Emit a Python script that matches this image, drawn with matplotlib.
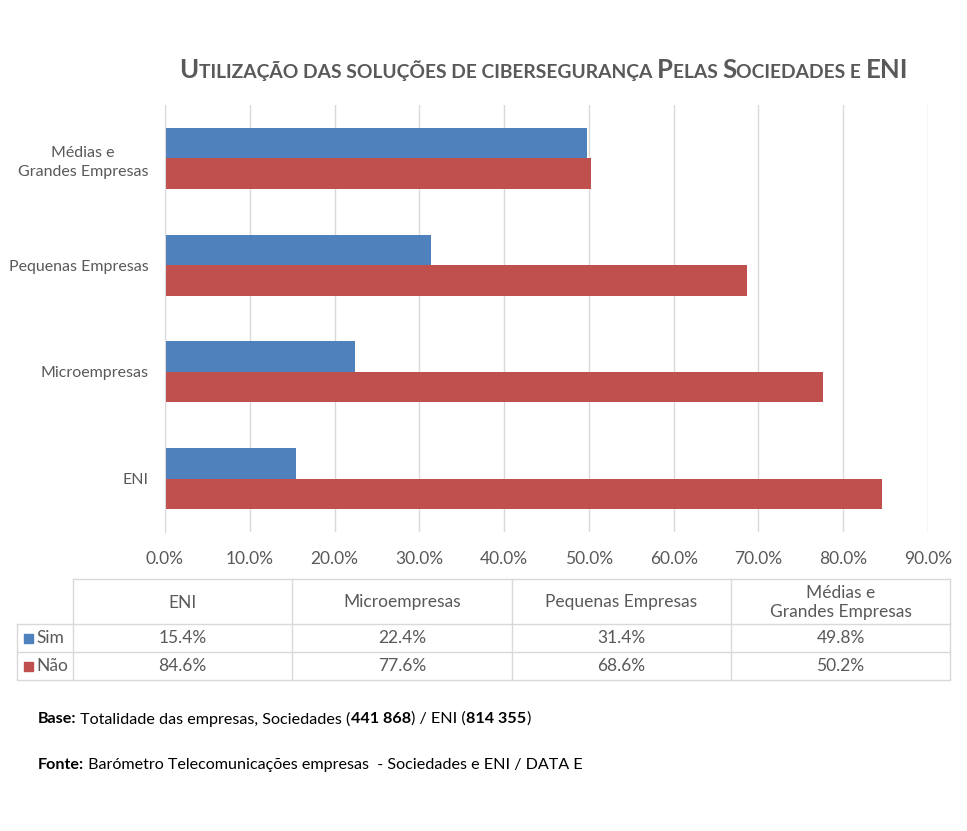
import matplotlib
matplotlib.use("Agg")
import matplotlib.pyplot as plt
from matplotlib.offsetbox import TextArea, HPacker, AnchoredOffsetbox
from matplotlib.patches import Rectangle

plt.rcParams['font.family'] = ['Lato', 'DejaVu Sans']

# data
categories = ['ENI', 'Microempresas', 'Pequenas Empresas', 'Médias e\nGrandes Empresas']
sim = [15.4, 22.4, 31.4, 49.8]
nao = [84.6, 77.6, 68.6, 50.2]
series_names = ['Sim', 'Não']
xticks = [0, 10, 20, 30, 40, 50, 60, 70, 80, 90]

blue = '#4F81BD'
red = '#C0504D'
txt = '#595959'
grid = '#D9D9D9'

W, H = 967, 831
fig = plt.figure(figsize=(W / 100, H / 100), dpi=100)

# bar chart area in pixels: x 165..928, y 105..532
ax = fig.add_axes([165 / W, 1 - 532 / H, (928 - 165) / W, (532 - 105) / H])
ypos = range(len(categories))
bh = 0.285
ax.barh([y + bh / 2 for y in ypos], sim, height=bh, color=blue)
ax.barh([y - bh / 2 for y in ypos], nao, height=bh, color=red)
ax.set_xlim(0, 90)
ax.set_ylim(-0.5, 3.5)
ax.set_xticks(xticks)
ax.set_xticklabels(['%.1f%%' % v for v in xticks], fontsize=12.5, color=txt)
ax.set_yticks(list(ypos))
ax.set_yticklabels(categories, fontsize=11.5, color=txt, linespacing=1.45, multialignment='center')
ax.tick_params(length=0, pad=12, axis='y')
ax.tick_params(length=0, pad=14, axis='x')
ax.grid(axis='x', color=grid, lw=1)
ax.set_axisbelow(True)
for s in ['top', 'right', 'bottom']:
    ax.spines[s].set_visible(False)
ax.spines['left'].set_color(grid)

# title in small caps
title_parts = [('U', 18.5), ('TILIZAÇÃO DAS SOLUÇÕES DE CIBERSEGURANÇA ', 13.9), ('P', 18.5), ('ELAS ', 13.9),
               ('S', 18.5), ('OCIEDADES E ', 13.9), ('ENI', 18.5)]
boxes = [TextArea(t, textprops=dict(fontsize=s, fontweight='bold', color=txt)) for t, s in title_parts]
pack = HPacker(children=boxes, align='baseline', pad=0, sep=0)
tb = AnchoredOffsetbox(loc='center', child=pack, frameon=False,
                       bbox_to_anchor=(544 / W, 1 - 70 / H), bbox_transform=fig.transFigure, pad=0)
fig.add_artist(tb)

# data table below the chart, drawn in pixel coordinates
tax = fig.add_axes([0, 0, 1, 1])
tax.set_xlim(0, W)
tax.set_ylim(H, 0)
tax.axis('off')
lc = '#D9D9D9'
col_x = [17, 73, 292, 512, 731, 950]
row_y = [579, 624, 652, 680]
tfs = 12.5
# horizontal lines
tax.plot([73, 950], [row_y[0]] * 2, color=lc, lw=1)
for y in row_y[1:]:
    tax.plot([17, 950], [y, y], color=lc, lw=1)
# vertical lines
tax.plot([17, 17], [row_y[1], row_y[3]], color=lc, lw=1)
for x in col_x[1:]:
    tax.plot([x, x], [row_y[0], row_y[3]], color=lc, lw=1)
for i in range(len(categories)):
    cx = (col_x[i + 1] + col_x[i + 2]) / 2
    tax.text(cx, (row_y[0] + row_y[1]) / 2 + 1, categories[i], ha='center', va='center',
             fontsize=tfs, color=txt, linespacing=1.3)
    tax.text(cx, (row_y[1] + row_y[2]) / 2, '%.1f%%' % sim[i], ha='center', va='center',
             fontsize=tfs, color=txt)
    tax.text(cx, (row_y[2] + row_y[3]) / 2, '%.1f%%' % nao[i], ha='center', va='center',
             fontsize=tfs, color=txt)
for j, (name, c) in enumerate(zip(series_names, [blue, red])):
    cy = (row_y[1 + j] + row_y[2 + j]) / 2
    tax.add_patch(Rectangle((24, cy - 4.5), 9, 9, color=c))
    tax.text(36, cy, name, ha='left', va='center', fontsize=tfs, color=txt)

# footnotes
fs = 11.6
fig.canvas.draw()
r = fig.canvas.get_renderer()


def after(prev, s, bold=False):
    bb = prev.get_window_extent(r)
    xd = tax.transData.inverted().transform((bb.x1, 0))[0]
    return tax.text(xd, prev.get_position()[1], s, fontsize=fs,
                    fontweight='bold' if bold else 'normal', color='black', va='center')


t = tax.text(38, 719, 'Base:', fontsize=fs, fontweight='bold', color='black', va='center')
t = after(t, ' Totalidade das empresas, Sociedades (')
t = after(t, '441 868', True)
t = after(t, ') / ENI (')
t = after(t, '814 355', True)
t = after(t, ')')

t2 = tax.text(38, 765, 'Fonte:', fontsize=fs, fontweight='bold', color='black', va='center')
t2 = after(t2, ' Barómetro Telecomunicações empresas  - Sociedades e ENI / DATA E')

fig.savefig('out.png', dpi=100)
